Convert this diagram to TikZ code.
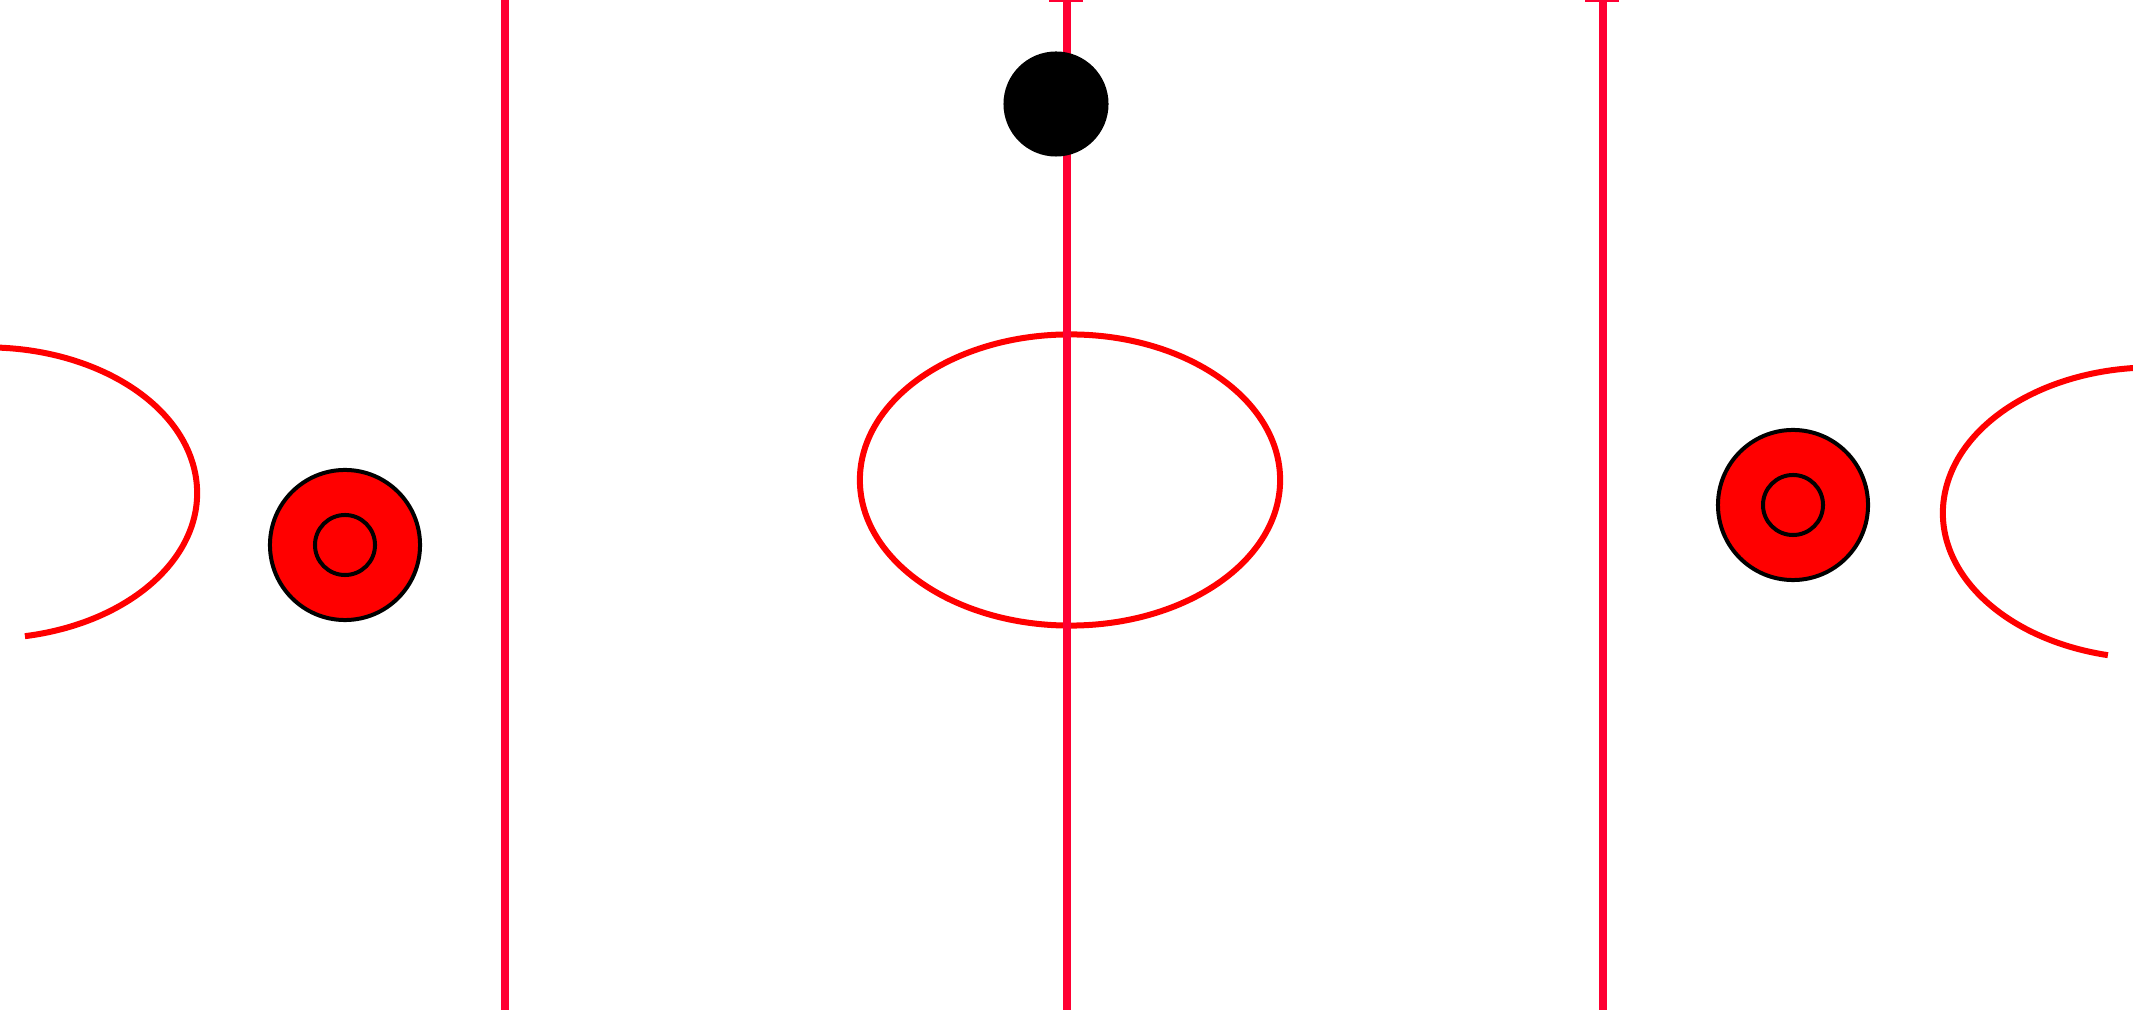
\documentclass[tikz,border=0pt]{standalone}
\usetikzlibrary{positioning}
\definecolor{LineRed}{HTML}{FF0033}
\definecolor{FaceRed}{HTML}{FF0000}
\tikzset{
  rinkline/.style={draw=LineRed,line width=.08cm},
  linetick/.style={draw=LineRed,line width=.04cm},
  faceoff/.style={draw=FaceRed,line width=.06cm},
  spot/.style={circle,draw=black,fill=FaceRed,line width=.04cm,minimum size=1.5cm,inner sep=0pt},
  spotring/.style={circle,draw=black,line width=.04cm,minimum size=.6cm,inner sep=0pt},
  puck/.style={circle,fill=black,draw=none,minimum size=1.05cm,inner sep=0pt}
}
\begin{document}
\begin{tikzpicture}[x=0.01cm,y=-0.01cm]
  \useasboundingbox (0,0) rectangle (2133,1010);
  % faceoff circles
  \coordinate (cc) at (1070,480);
  \draw[faceoff] (cc) ellipse [x radius=2.1cm,y radius=1.455cm];
  \coordinate (lc) at (-13,493);
  \draw[faceoff] (lc) ++(100:2.1cm and 1.455cm) arc[start angle=100,end angle=-79.6,x radius=2.1cm,y radius=1.455cm];
  \coordinate (rc) at (2153,513);
  \draw[faceoff] (rc) ++(80:2.1cm and 1.455cm) arc[start angle=80,end angle=257.6,x radius=2.1cm,y radius=1.455cm];
  % lines
  \coordinate (bl top) at (505,0);
  \coordinate (bl bot) at (505,1010);
  \coordinate (ml top) at (1067,0);
  \coordinate (ml bot) at (1067,1010);
  \coordinate (br top) at (1603,0);
  \coordinate (br bot) at (1603,1010);
  \draw[rinkline] (bl top)--(bl bot);
  \draw[rinkline] (ml top)--(ml bot);
  \draw[rinkline] (br top)--(br bot);
  \coordinate (ml tl) at (1049,0);
  \coordinate (ml tr) at (1083,0);
  \coordinate (br tl) at (1585,0);
  \coordinate (br tr) at (1619,0);
  \draw[linetick] (ml tl)--(ml tr);
  \draw[linetick] (br tl)--(br tr);
  % spots and puck
  \node[spot] (lspot) at (345,545) {};
  \node[spotring] (lring) at (lspot) {};
  \node[spot] (rspot) at (1793,505) {};
  \node[spotring] (rring) at (rspot) {};
  \node[puck] (puck) at (1056,104) {};
\end{tikzpicture}
\end{document}
